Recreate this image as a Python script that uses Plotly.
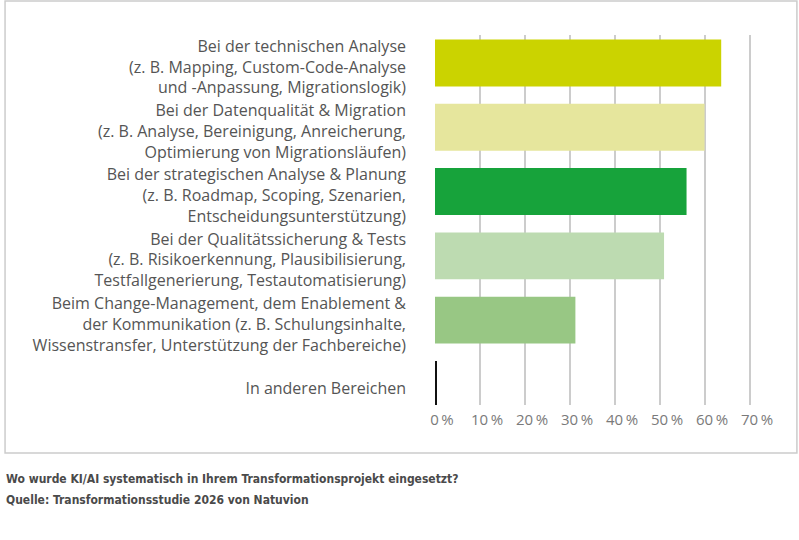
import plotly.graph_objects as go

categories = [
    "Bei der technischen Analyse<br>(z. B. Mapping, Custom-Code-Analyse<br>und -Anpassung, Migrationslogik)",
    "Bei der Datenqualität & Migration<br>(z. B. Analyse, Bereinigung, Anreicherung,<br>Optimierung von Migrationsläufen)",
    "Bei der strategischen Analyse & Planung<br>(z. B. Roadmap, Scoping, Szenarien,<br>Entscheidungsunterstützung)",
    "Bei der Qualitätssicherung & Tests<br>(z. B. Risikoerkennung, Plausibilisierung,<br>Testfallgenerierung, Testautomatisierung)",
    "Beim Change-Management, dem Enablement &<br>der Kommunikation (z. B. Schulungsinhalte,<br>Wissenstransfer, Unterstützung der Fachbereiche)",
    "In anderen Bereichen",
]
values = [63.6, 59.9, 55.9, 50.9, 31.2, 0.4]
colors = ["#cbd300", "#e6e69d", "#17a33b", "#bddbb1", "#98c784", "#111111"]
tick_vals = [0, 10, 20, 30, 40, 50, 60, 70]

caption = [
    "Wo wurde KI/AI systematisch in Ihrem Transformationsprojekt eingesetzt?",
    "Quelle: Transformationsstudie 2026 von Natuvion",
]

fig = go.Figure(
    go.Bar(
        x=values,
        y=categories,
        orientation="h",
        marker=dict(color=colors, line_width=0),
        hoverinfo="skip",
    )
)

fig.update_layout(
    width=799,
    height=540,
    margin=dict(l=435, r=40, t=35, b=135),
    paper_bgcolor="white",
    plot_bgcolor="white",
    bargap=0.27,
    showlegend=False,
    font=dict(family="Open Sans", size=15, color="#555555"),
)
fig.update_xaxes(
    automargin=False,
    range=[0, 72],
    tickvals=tick_vals,
    ticktext=[f"{v}\u2009%" for v in tick_vals],
    showgrid=True,
    gridcolor="#cccccc",
    gridwidth=1.5,
    zeroline=False,
    showline=False,
    ticks="",
    tickfont=dict(size=15, color="#7a7a7a"),
    ticklabelshift=7,
    ticklabelstandoff=4,
)
fig.update_yaxes(
    automargin=False,
    range=[5.32, -0.435],
    showgrid=False,
    showline=False,
    ticks="",
    ticklabelstandoff=28,
    ticklabelshift=-4,
    tickfont=dict(size=16, color="#555555"),
)

# outer frame around the chart area
fig.add_shape(
    type="rect",
    xref="paper",
    yref="paper",
    x0=-1.327,
    x1=1.117,
    y0=-0.13,
    y1=1.092,
    line=dict(color="#cccccc", width=1.5),
    layer="below",
)

for i, line in enumerate(caption):
    fig.add_annotation(
        text=f"<b>{line}</b>",
        xref="paper",
        yref="paper",
        x=-1.33,
        y=-0.2 - i * 0.056,
        xanchor="left",
        yanchor="middle",
        showarrow=False,
        font=dict(family="DejaVu Sans Condensed, Roboto", size=12, color="#4a4a4a"),
    )

# drop the default page margin so the figure sits at the window origin
fig.write_html(
    "out.html",
    config={"displayModeBar": False},
    post_script="document.body.style.margin = '0';",
)
